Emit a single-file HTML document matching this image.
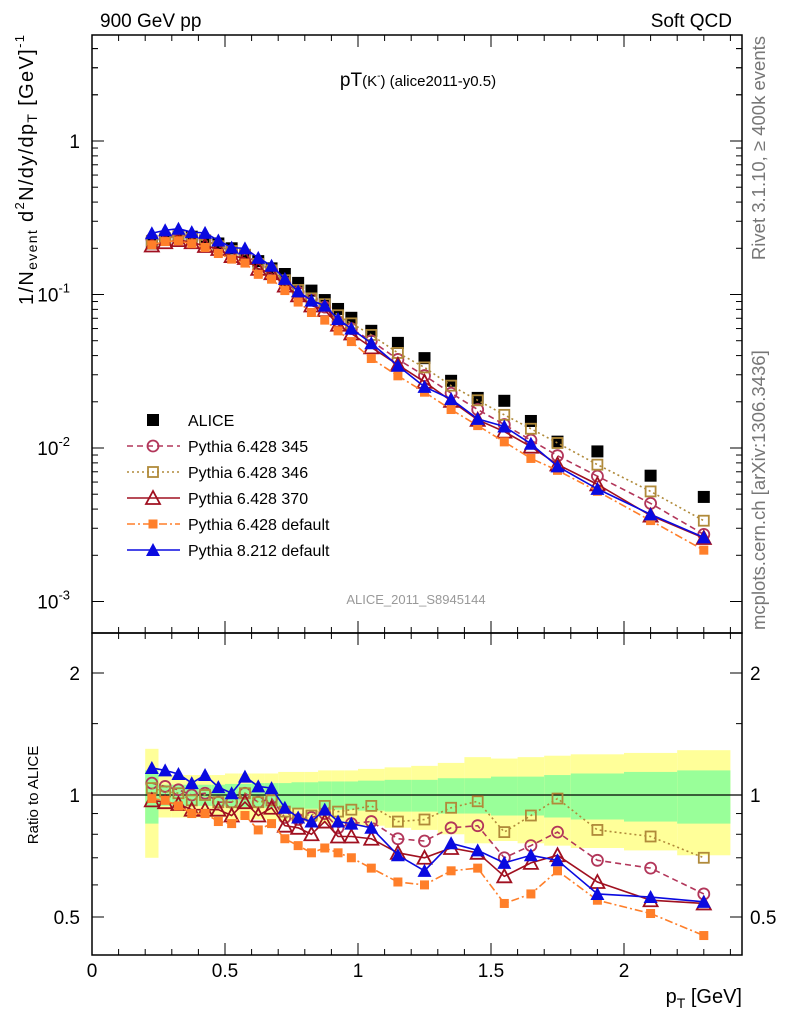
<!DOCTYPE html>
<html><head><meta charset="utf-8"><style>
body{margin:0;background:#fff}
svg{display:block;font-family:"Liberation Sans",sans-serif}
</style></head><body>
<svg id="c" width="786" height="1024" viewBox="0 0 786 1024" xmlns="http://www.w3.org/2000/svg">
<rect width="786" height="1024" fill="#fff"/>
<g id="bands"></g><g id="grid"></g><g id="series"></g>
<rect x="92" y="35" width="650" height="598" fill="none" stroke="#000" stroke-width="1.5"/>
<rect x="92" y="633" width="650" height="322" fill="none" stroke="#000" stroke-width="1.5"/>
<text x="100" y="27" font-size="19">900 GeV pp</text>
<text x="732" y="27" font-size="19" text-anchor="end">Soft QCD</text>
<text x="418" y="86" font-size="19" text-anchor="middle">pT<tspan font-size="15">(K</tspan><tspan font-size="10" dy="-7">-</tspan><tspan font-size="15" dy="7">)</tspan><tspan font-size="15"> (alice2011-y0.5)</tspan></text>
<text transform="translate(33,305) rotate(-90)" font-size="20" text-anchor="start" textLength="270" lengthAdjust="spacing">1/N<tspan font-size="14" dy="4">event</tspan><tspan dy="-4"> d</tspan><tspan font-size="13" dy="-9">2</tspan><tspan dy="9">N/dy/dp</tspan><tspan font-size="14" dy="4">T</tspan><tspan dy="-4">  [GeV]</tspan><tspan font-size="13" dy="-9">-1</tspan></text>
<text transform="translate(765,36) rotate(-90)" font-size="18.5" fill="#777" text-anchor="end">Rivet 3.1.10, ≥ 400k events</text>
<text transform="translate(765,630) rotate(-90)" font-size="18.5" fill="#777" text-anchor="start">mcplots.cern.ch [arXiv:1306.3436]</text>
<text x="416" y="604" font-size="13" fill="#999" text-anchor="middle">ALICE_2011_S8945144</text>
<text transform="translate(38,795) rotate(-90)" font-size="15" text-anchor="middle">Ratio to ALICE</text>
<text x="742" y="1003" font-size="20" text-anchor="end">p<tspan font-size="14" dy="5">T</tspan><tspan dy="-5"> [GeV]</tspan></text>
<g id="legend"></g>
<script>
const pts=[0.225,0.275,0.325,0.375,0.425,0.475,0.525,0.575,0.625,0.675,0.725,0.775,0.825,0.875,0.925,0.975,1.05,1.15,1.25,1.35,1.45,1.55,1.65,1.75,1.9,2.1,2.3];
const binW=[0.05,0.05,0.05,0.05,0.05,0.05,0.05,0.05,0.05,0.05,0.05,0.05,0.05,0.05,0.05,0.05,0.1,0.1,0.1,0.1,0.1,0.1,0.1,0.1,0.2,0.2,0.2];
const alice=[0.215,0.228,0.238,0.238,0.225,0.215,0.200,0.180,0.165,0.148,0.136,0.119,0.106,0.092,0.0805,0.0705,0.058,0.0484,0.0385,0.0274,0.0212,0.0203,0.0150,0.011,0.0095,0.0066,0.0048];
const errTot=[0.30,0.12,0.12,0.12,0.12,0.12,0.13,0.13,0.13,0.13,0.14,0.14,0.14,0.15,0.15,0.15,0.16,0.17,0.18,0.20,0.24,0.23,0.24,0.25,0.26,0.27,0.29];
const errStat=[0.15,0.06,0.06,0.06,0.06,0.06,0.065,0.065,0.07,0.07,0.07,0.075,0.075,0.08,0.08,0.08,0.085,0.09,0.09,0.1,0.1,0.11,0.11,0.12,0.13,0.14,0.15];
const r345=[1.07,1.05,1.03,1.0,1.01,0.96,0.96,1.01,0.96,0.98,0.88,0.87,0.88,0.90,0.83,0.85,0.86,0.78,0.77,0.83,0.84,0.70,0.75,0.81,0.69,0.66,0.57];
const r346=[1.04,1.02,1.01,0.97,1.0,0.96,0.96,1.01,0.96,0.97,0.91,0.90,0.89,0.94,0.91,0.92,0.94,0.86,0.87,0.93,0.965,0.81,0.89,0.98,0.82,0.79,0.70];
const r370=[0.97,0.96,0.95,0.92,0.92,0.92,0.89,0.96,0.89,0.93,0.84,0.83,0.80,0.86,0.79,0.79,0.78,0.72,0.70,0.74,0.72,0.63,0.68,0.71,0.61,0.55,0.54];
const rdef=[0.98,0.97,0.94,0.90,0.90,0.86,0.85,0.89,0.82,0.85,0.78,0.75,0.72,0.74,0.72,0.70,0.66,0.61,0.60,0.65,0.66,0.54,0.57,0.65,0.55,0.51,0.45];
const r8=[1.166,1.15,1.127,1.07,1.12,1.046,1.01,1.11,1.05,1.04,0.93,0.88,0.86,0.92,0.86,0.85,0.83,0.71,0.65,0.76,0.73,0.68,0.71,0.69,0.57,0.56,0.545];
const NS="http://www.w3.org/2000/svg";
const X=v=>92+266*v;
const Y=v=>141-153.5*Math.log10(v);
const R=v=>795-122*Math.log2(v);
function el(t,a,p){const e=document.createElementNS(NS,t);for(const k in a)e.setAttribute(k,a[k]);p.appendChild(e);return e;}
const bands=document.getElementById('bands'),grid=document.getElementById('grid'),ser=document.getElementById('series'),leg=document.getElementById('legend');
pts.forEach((p,i)=>{const x0=X(p-binW[i]/2),w=266*binW[i];
 let b=el('rect',{x:x0,y:R(1+errTot[i]),width:w,height:R(1-errTot[i])-R(1+errTot[i]),fill:'#ffff99'},bands);
 
 
 let g=el('rect',{x:x0,y:R(1+errStat[i]),width:w,height:R(1-errStat[i])-R(1+errStat[i]),fill:'#99ff99'},bands);
 
 
});
el('line',{x1:92,x2:742,y1:R(1),y2:R(1),stroke:'#000','stroke-width':1.3},grid);
const xt=['0','0.5','1','1.5','2'];
xt.forEach(t=>{const x=X(+t);
 [[633,-12],[955,-12],[35,12],[633,12]].forEach(([y,d])=>el('line',{x1:x,x2:x,y1:y,y2:y+d,stroke:'#000'},grid));
 const tx=el('text',{x:x,y:977,'font-size':19,'text-anchor':'middle'},grid);tx.textContent=t;
 
 
});
for(let v=0.1;v<2.44;v+=0.1){const x=X(v);if(Math.abs(v*2-Math.round(v*2))<1e-6)continue;
 [[633,-6],[955,-6],[35,6],[633,6]].forEach(([y,d])=>el('line',{x1:x,x2:x,y1:y,y2:y+d,stroke:'#000'},grid));}
for(let e=-3;e<=0;e++){for(let m=1;m<10;m++){const v=m*Math.pow(10,e),y=Y(v);if(y<35||y>633)continue;const L=m==1?12:6;
 el('line',{x1:92,x2:92+L,y1:y,y2:y,stroke:'#000'},grid);el('line',{x1:742,x2:742-L,y1:y,y2:y,stroke:'#000'},grid);}}
[2,3,4].forEach(m=>{const y=Y(m);el('line',{x1:92,x2:98,y1:y,y2:y,stroke:'#000'},grid);el('line',{x1:742,x2:736,y1:y,y2:y,stroke:'#000'},grid);});
const ylab=[[1,'1',''],[0.1,'10','-1'],[0.01,'10','-2'],[0.001,'10','-3']];
ylab.forEach(([v,b,s])=>{const t=el('text',{x:s?70:80,y:Y(v)+7,'font-size':19,'text-anchor':'end'},grid);t.textContent=b;
 
 
 if(s){const u=el('tspan',{'font-size':13,dy:-9},t);u.textContent=s;}});
[0.5,0.6,0.7,0.8,0.9,1,1.5,2].forEach(v=>{const y=R(v),L=(v==0.5||v==1||v==2)?12:6;
 el('line',{x1:92,x2:92+L,y1:y,y2:y,stroke:'#000'},grid);el('line',{x1:742,x2:742-L,y1:y,y2:y,stroke:'#000'},grid);});
['2','1','0.5'].forEach(s=>{[80,750].forEach(x=>{const t=el('text',{x:x,y:R(+s)+7,'font-size':19,'text-anchor':x<100?'end':'start'},grid);t.textContent=s;
 
 });});
function marker(g,type,x,y,col,s){
 if(type=='fsq')el('rect',{x:x-s,y:y-s,width:2*s,height:2*s,fill:col},g);
 if(type=='osq')el('rect',{x:x-s+1,y:y-s+1,width:2*s-2,height:2*s-2,fill:'none',stroke:col,'stroke-width':1.8},g);
 if(type=='oc')el('circle',{cx:x,cy:y,r:s-0.5,fill:'none',stroke:col,'stroke-width':1.8},g);
 if(type=='ot')el('polygon',{points:`${x},${y-s-1} ${x-s-1},${y+s} ${x+s+1},${y+s}`,fill:'none',stroke:col,'stroke-width':1.8},g);
 if(type=='ft')el('polygon',{points:`${x},${y-s-1} ${x-s-1},${y+s} ${x+s+1},${y+s}`,fill:col},g);
}
const defs=[
 ['pythia-6428-345',r345,'#b2365a','6,4','oc',6,'Pythia 6.428 345'],
 ['pythia-6428-346',r346,'#b08a3a','2,3','osq',6,'Pythia 6.428 346'],
 ['pythia-6428-370',r370,'#a01020','','ot',6,'Pythia 6.428 370'],
 ['pythia-6428-default',rdef,'#ff7f2a','8,3,2,3','fsq',4.5,'Pythia 6.428 default'],
 ['pythia-8212-default',r8,'#0a0ae0','','ft',6,'Pythia 8.212 default']];
defs.forEach(([nm,r,col,dash,mk,s])=>{
 const g=el('g',{},ser);
 
 const main=pts.map((p,i)=>X(p)+','+Y(alice[i]*r[i])).join(' ');
 const rat=pts.map((p,i)=>X(p)+','+R(r[i])).join(' ');
 el('polyline',{points:main,fill:'none',stroke:col,'stroke-width':1.6,'stroke-dasharray':dash},g);
 el('polyline',{points:rat,fill:'none',stroke:col,'stroke-width':1.6,'stroke-dasharray':dash},g);
 pts.forEach((p,i)=>{marker(g,mk,X(p),Y(alice[i]*r[i]),col,s);marker(g,mk,X(p),R(r[i]),col,s);});
});
const ga=el('g',{},ser);

pts.forEach((p,i)=>marker(ga,'fsq',X(p),Y(alice[i]),'#000',6));
ser.insertBefore(ga,ser.firstChild);
const legItems=[['ALICE','#000','','fsq',6],...defs.map(d=>[d[6],d[2],d[3],d[4],d[5]])];
legItems.forEach(([t,col,dash,mk,s],i)=>{const y=420+26*i;
 const g=el('g',{},leg);
 
 if(i>0)el('line',{x1:127,x2:180,y1:y,y2:y,stroke:col,'stroke-width':1.6,'stroke-dasharray':dash},g);
 marker(g,mk,153,y,col,s);
 const tx=el('text',{x:188,y:y+6,'font-size':16},g);tx.textContent=t;});
</script>
</svg>
</body></html>
